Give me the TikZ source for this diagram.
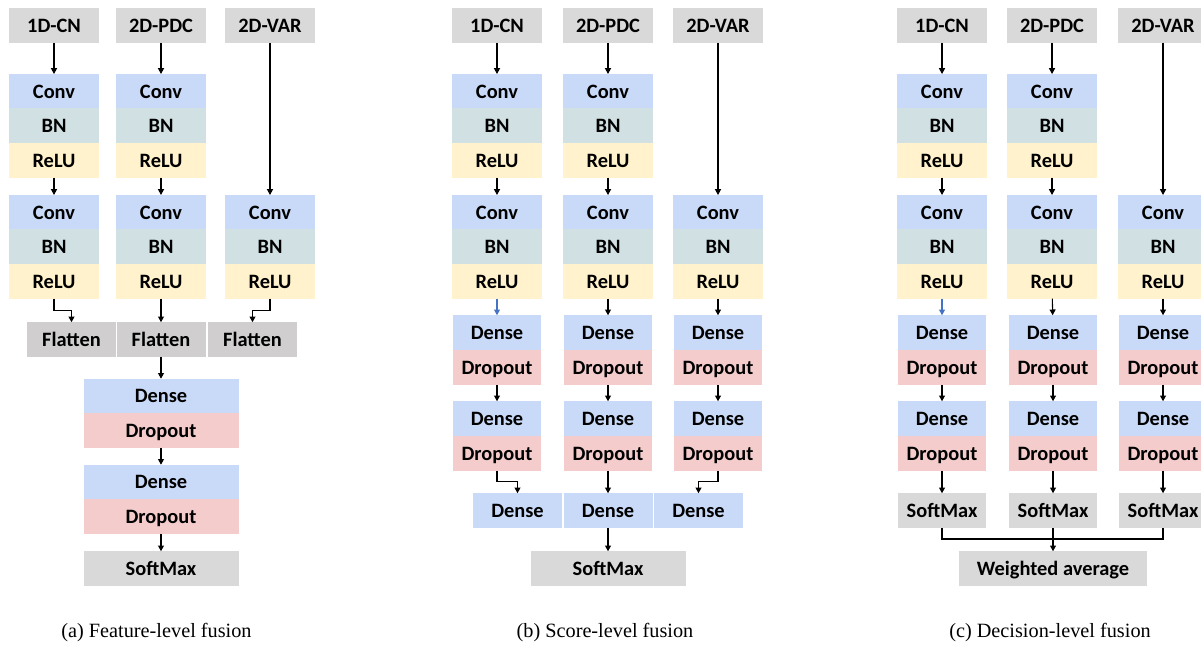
\documentclass[tikz,border=0pt]{standalone}
\usepackage{fontspec}
\setmainfont{Liberation Serif}
\newfontfamily\cfont{Carlito}
\usetikzlibrary{arrows.meta}
\definecolor{cblue}{HTML}{C9DAF8}
\definecolor{cbn}{HTML}{D0E0E3}
\definecolor{crelu}{HTML}{FFF2CC}
\definecolor{cdrop}{HTML}{F4CCCC}
\definecolor{cgray}{HTML}{D9D9D9}
\definecolor{cflat}{HTML}{D0CECE}
\definecolor{carrblue}{HTML}{4472C4}
\begin{document}
\begin{tikzpicture}[x=0.75pt,y=-0.75pt,
  box/.style={inner sep=0pt, outer sep=0pt, minimum width=67.5pt, minimum height=25.9pt,
    font=\cfont\bfseries\fontsize{15.3}{17}\selectfont, text height=10.5pt, text depth=0.1pt},
  gin/.style={box, fill=cgray},
  cv/.style={box, fill=cblue},
  bn/.style={box, fill=cbn},
  rl/.style={box, fill=crelu},
  dr/.style={box, fill=cdrop},
  fl/.style={box, fill=cflat, minimum width=66.75pt},
  wide/.style={minimum width=116.25pt},
  narrow/.style={minimum width=66pt},
  arr/.style={-{Triangle[length=4.3pt,width=4.5pt]}, line width=0.8pt},
  ln/.style={line width=0.8pt},
  captext/.style={font=\fontsize{15.2}{18}\selectfont}
]
\useasboundingbox (0,0) rectangle (1201,645);
\clip (0,0) rectangle (1201,645);

% ================= (a) =================
\node[gin] (a1in) at (54,25.5) {1D-CN};
\node[gin] (a2in) at (161,25.5) {2D-PDC};
\node[gin] (a3in) at (270,25.5) {2D-VAR};
\node[cv] (a1c1) at (54,91.25) {Conv};
\node[bn] (a1b1) at (54,125.75) {BN};
\node[rl] (a1r1) at (54,160.25) {ReLU};
\node[cv] (a2c1) at (161,91.25) {Conv};
\node[bn] (a2b1) at (161,125.75) {BN};
\node[rl] (a2r1) at (161,160.25) {ReLU};
\node[cv] (a1c2) at (54,212.25) {Conv};
\node[bn] (a1b2) at (54,246.75) {BN};
\node[rl] (a1r2) at (54,281.25) {ReLU};
\node[cv] (a2c2) at (161,212.25) {Conv};
\node[bn] (a2b2) at (161,246.75) {BN};
\node[rl] (a2r2) at (161,281.25) {ReLU};
\node[cv] (a3c2) at (270,212.25) {Conv};
\node[bn] (a3b2) at (270,246.75) {BN};
\node[rl] (a3r2) at (270,281.25) {ReLU};
\node[fl] (a1f) at (71.5,339.5) {Flatten};
\node[fl] (a2f) at (161,339.5) {Flatten};
\node[fl] (a3f) at (252.5,339.5) {Flatten};
\node[cv,wide] (ad1) at (161,396) {Dense};
\node[dr,wide] (ado1) at (161,430.5) {Dropout};
\node[cv,wide] (ad2) at (161,482) {Dense};
\node[dr,wide] (ado2) at (161,516.5) {Dropout};
\node[gin,wide] (asm) at (161,568.5) {SoftMax};
\draw[arr] (a1in) -- (a1c1);
\draw[arr] (a2in) -- (a2c1);
\draw[arr] (a3in) -- (a3c2);
\draw[arr] (a1r1) -- (a1c2);
\draw[arr] (a2r1) -- (a2c2);
\draw[arr] (a1r2.south) -- ++(0,12) -| (a1f.north);
\draw[arr] (a2r2) -- (a2f);
\draw[arr] (a3r2.south) -- ++(0,12) -| (a3f.north);
\draw[arr] (a2f) -- (ad1);
\draw[arr] (ado1) -- (ad2);
\draw[arr] (ado2) -- (asm);
\node[captext] (capa) at (156.5,633) {(a) Feature-level fusion};

% ================= (b) =================
\node[gin] (b1in) at (497,25.5) {1D-CN};
\node[gin] (b2in) at (608,25.5) {2D-PDC};
\node[gin] (b3in) at (718,25.5) {2D-VAR};
\node[cv] (b1c1) at (497,91.25) {Conv};
\node[bn] (b1b1) at (497,125.75) {BN};
\node[rl] (b1r1) at (497,160.25) {ReLU};
\node[cv] (b2c1) at (608,91.25) {Conv};
\node[bn] (b2b1) at (608,125.75) {BN};
\node[rl] (b2r1) at (608,160.25) {ReLU};
\node[cv] (b1c2) at (497,212.25) {Conv};
\node[bn] (b1b2) at (497,246.75) {BN};
\node[rl] (b1r2) at (497,281.25) {ReLU};
\node[cv] (b2c2) at (608,212.25) {Conv};
\node[bn] (b2b2) at (608,246.75) {BN};
\node[rl] (b2r2) at (608,281.25) {ReLU};
\node[cv] (b3c2) at (718,212.25) {Conv};
\node[bn] (b3b2) at (718,246.75) {BN};
\node[rl] (b3r2) at (718,281.25) {ReLU};
\node[cv,narrow] (b1d1) at (497,332.5) {Dense};
\node[dr,narrow] (b1o1) at (497,367.5) {Dropout};
\node[cv,narrow] (b1d2) at (497,418.5) {Dense};
\node[dr,narrow] (b1o2) at (497,453.5) {Dropout};
\node[cv,narrow] (b2d1) at (608,332.5) {Dense};
\node[dr,narrow] (b2o1) at (608,367.5) {Dropout};
\node[cv,narrow] (b2d2) at (608,418.5) {Dense};
\node[dr,narrow] (b2o2) at (608,453.5) {Dropout};
\node[cv,narrow] (b3d1) at (718,332.5) {Dense};
\node[dr,narrow] (b3o1) at (718,367.5) {Dropout};
\node[cv,narrow] (b3d2) at (718,418.5) {Dense};
\node[dr,narrow] (b3o2) at (718,453.5) {Dropout};
\node[cv,minimum width=66.75pt] (b1e) at (517.5,510.5) {Dense};
\node[cv,minimum width=66.75pt] (b2e) at (608,510.5) {Dense};
\node[cv,minimum width=66.75pt] (b3e) at (698.5,510.5) {Dense};
\node[gin,wide] (bsm) at (608,568.5) {SoftMax};
\draw[arr] (b1in) -- (b1c1);
\draw[arr] (b2in) -- (b2c1);
\draw[arr] (b3in) -- (b3c2);
\draw[arr] (b1r1) -- (b1c2);
\draw[arr] (b2r1) -- (b2c2);
\draw[arr,carrblue] (b1r2) -- (b1d1);
\draw[arr] (b2r2) -- (b2d1);
\draw[arr] (b3r2) -- (b3d1);
\draw[arr] (b1o1) -- (b1d2);
\draw[arr] (b2o1) -- (b2d2);
\draw[arr] (b3o1) -- (b3d2);
\draw[arr] (b1o2.south) -- ++(0,11) -| (b1e.north);
\draw[arr] (b2o2) -- (b2e);
\draw[arr] (b3o2.south) -- ++(0,11) -| (b3e.north);
\draw[arr] (b2e) -- (bsm);
\node[captext] (capb) at (605,633) {(b) Score-level fusion};

% ================= (c) =================
\node[gin] (c1in) at (942,25.5) {1D-CN};
\node[gin] (c2in) at (1052,25.5) {2D-PDC};
\node[gin] (c3in) at (1163,25.5) {2D-VAR};
\node[cv] (c1c1) at (942,91.25) {Conv};
\node[bn] (c1b1) at (942,125.75) {BN};
\node[rl] (c1r1) at (942,160.25) {ReLU};
\node[cv] (c2c1) at (1052,91.25) {Conv};
\node[bn] (c2b1) at (1052,125.75) {BN};
\node[rl] (c2r1) at (1052,160.25) {ReLU};
\node[cv] (c1c2) at (942,212.25) {Conv};
\node[bn] (c1b2) at (942,246.75) {BN};
\node[rl] (c1r2) at (942,281.25) {ReLU};
\node[cv] (c2c2) at (1052,212.25) {Conv};
\node[bn] (c2b2) at (1052,246.75) {BN};
\node[rl] (c2r2) at (1052,281.25) {ReLU};
\node[cv] (c3c2) at (1163,212.25) {Conv};
\node[bn] (c3b2) at (1163,246.75) {BN};
\node[rl] (c3r2) at (1163,281.25) {ReLU};
\node[cv,narrow] (c1d1) at (942,332.5) {Dense};
\node[dr,narrow] (c1o1) at (942,367.5) {Dropout};
\node[cv,narrow] (c1d2) at (942,418.5) {Dense};
\node[dr,narrow] (c1o2) at (942,453.5) {Dropout};
\node[cv,narrow] (c2d1) at (1053,332.5) {Dense};
\node[dr,narrow] (c2o1) at (1053,367.5) {Dropout};
\node[cv,narrow] (c2d2) at (1053,418.5) {Dense};
\node[dr,narrow] (c2o2) at (1053,453.5) {Dropout};
\node[cv,narrow] (c3d1) at (1163,332.5) {Dense};
\node[dr,narrow] (c3o1) at (1163,367.5) {Dropout};
\node[cv,narrow] (c3d2) at (1163,418.5) {Dense};
\node[dr,narrow] (c3o2) at (1163,453.5) {Dropout};
\node[gin,narrow] (c1s) at (942,510.5) {SoftMax};
\node[gin,narrow] (c2s) at (1053,510.5) {SoftMax};
\node[gin,narrow] (c3s) at (1163,510.5) {SoftMax};
\node[gin,minimum width=141pt] (cw) at (1053,568.5) {Weighted average};
\coordinate (cj) at (1053,539);
\draw[arr] (c1in) -- (c1c1);
\draw[arr] (c2in) -- (c2c1);
\draw[arr] (c3in) -- (c3c2);
\draw[arr] (c1r1) -- (c1c2);
\draw[arr] (c2r1) -- (c2c2);
\draw[arr,carrblue] (c1r2) -- (c1d1);
\draw[arr] (c2r2) -- (c2d1);
\draw[arr] (c3r2) -- (c3d1);
\draw[arr] (c1o1) -- (c1d2);
\draw[arr] (c2o1) -- (c2d2);
\draw[arr] (c3o1) -- (c3d2);
\draw[arr] (c1o2) -- (c1s);
\draw[arr] (c2o2) -- (c2s);
\draw[arr] (c3o2) -- (c3s);
\draw[ln] (c1s.south) |- (cj) -| (c3s.south);
\draw[arr] (c2s) -- (cw);
\node[captext] (capc) at (1050,633) {(c) Decision-level fusion};
\end{tikzpicture}
\end{document}
